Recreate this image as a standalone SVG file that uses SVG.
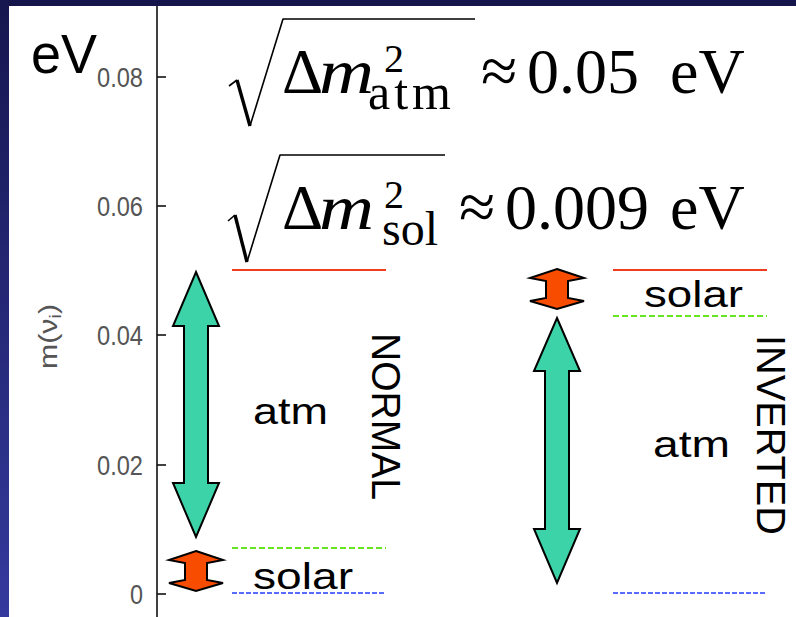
<svg xmlns="http://www.w3.org/2000/svg" width="796" height="617" viewBox="0 0 796 617">
<defs>
<linearGradient id="sideGrad" x1="0" y1="0" x2="0" y2="1">
<stop offset="0" stop-color="#16164f"/>
<stop offset="1" stop-color="#343a9e"/>
</linearGradient>
<style>
.tick{font-family:"Liberation Sans",Arial,sans-serif;font-size:28px;fill:#555;text-anchor:end}
.lbl{font-family:"Liberation Sans",Arial,sans-serif;fill:#000}
.math{font-family:"Liberation Serif","DejaVu Serif",serif;fill:#000}
.mi{font-style:italic}
.green{fill:#3dd3a8;stroke:#000;stroke-width:2;stroke-linejoin:miter}
.orange{fill:#f84c00;stroke:#000;stroke-width:2;stroke-linejoin:miter}
.red{stroke:#f03c1e;stroke-width:2;fill:none}
.gdash{stroke:#66e622;stroke-width:2;stroke-dasharray:6 3;fill:none}
.bdash{stroke:#5a6bff;stroke-width:2;stroke-dasharray:5 2;fill:none}
.rad{fill:none;stroke:#000;stroke-width:1.6;stroke-linejoin:round}
</style>
</defs>
<rect x="0" y="0" width="796" height="617" fill="#fff"/>
<rect x="0" y="0" width="796" height="6" fill="#15154b"/>
<rect x="0" y="0" width="9" height="617" fill="url(#sideGrad)"/>

<g id="axis">
<line x1="157" y1="6" x2="157" y2="617" stroke="#111" stroke-width="1.6"/>
<g stroke="#111" stroke-width="1.6">
<line x1="157" y1="77" x2="166" y2="77"/>
<line x1="157" y1="206" x2="166" y2="206"/>
<line x1="157" y1="335" x2="166" y2="335"/>
<line x1="157" y1="465" x2="166" y2="465"/>
<line x1="157" y1="594" x2="166" y2="594"/>
</g>
<text class="tick" x="143" y="87" textLength="46" lengthAdjust="spacingAndGlyphs">0.08</text>
<text class="tick" x="143" y="216" textLength="46" lengthAdjust="spacingAndGlyphs">0.06</text>
<text class="tick" x="143" y="345" textLength="46" lengthAdjust="spacingAndGlyphs">0.04</text>
<text class="tick" x="143" y="475" textLength="46" lengthAdjust="spacingAndGlyphs">0.02</text>
<text class="tick" x="143" y="604" textLength="13" lengthAdjust="spacingAndGlyphs">0</text>
<text class="lbl" transform="translate(57,369) rotate(-90)" font-size="25" style="fill:#555" textLength="65" lengthAdjust="spacingAndGlyphs">m(ν<tspan font-size="17" dy="4">i</tspan><tspan dy="-4">)</tspan></text>
</g>

<g id="unit-eV">
<text class="lbl" x="31" y="73" font-size="56" textLength="66" lengthAdjust="spacingAndGlyphs">eV</text>
</g>

<g id="formula-atm">
<path class="rad" d="M229,86 L237,80"/>
<path d="M237,80 L250,126" stroke="#000" stroke-width="3.4" fill="none"/>
<path class="rad" d="M250,126 L283,19 L475,19"/>
<text class="math"><tspan x="282" y="93" font-size="64">Δ</tspan><tspan class="mi" x="319" y="93" font-size="64" textLength="55" lengthAdjust="spacingAndGlyphs">m</tspan><tspan x="384" y="72" font-size="40">2</tspan><tspan x="368" y="109" font-size="50" letter-spacing="4">atm</tspan><tspan x="481" y="93" font-size="66">≈</tspan><tspan x="527" y="93" font-size="64">0.05</tspan><tspan x="670" y="93" font-size="64">eV</tspan></text>
</g>

<g id="formula-sol">
<path class="rad" d="M228,221 L235,215"/>
<path d="M235,215 L247,262" stroke="#000" stroke-width="3.4" fill="none"/>
<path class="rad" d="M247,262 L280,155 L445,155"/>
<text class="math"><tspan x="282" y="229" font-size="64">Δ</tspan><tspan class="mi" x="319" y="229" font-size="64" textLength="55" lengthAdjust="spacingAndGlyphs">m</tspan><tspan x="384" y="208" font-size="40">2</tspan><tspan x="382" y="245" font-size="48">sol</tspan><tspan x="459" y="229" font-size="66">≈</tspan><tspan x="505" y="229" font-size="64">0.009</tspan><tspan x="670" y="229" font-size="64">eV</tspan></text>
</g>

<g id="normal-levels">
<line class="red" x1="232" y1="270" x2="386" y2="270"/>
<line class="gdash" x1="232" y1="548" x2="386" y2="548"/>
<line class="bdash" x1="232" y1="593" x2="386" y2="593"/>
</g>

<g id="inverted-levels">
<line class="red" x1="613" y1="270" x2="767" y2="270"/>
<line class="gdash" x1="613" y1="316" x2="767" y2="316"/>
<line class="bdash" x1="613" y1="593" x2="767" y2="593"/>
</g>

<g id="connectors">
<polygon id="normal-atm-arrow" class="green" points="196,272 219,326 208,326 208,483 219,483 196,537 173,483 184,483 184,326 173,326"/>
<polygon id="normal-solar-arrow" class="orange" points="196,551 223,560 207,563 207,580 223,583 196,591 169,583 185,580 185,563 169,560"/>
<polygon id="inverted-atm-arrow" class="green" points="557,318 580,371 569,371 569,529 580,529 557,583 534,529 545,529 545,371 534,371"/>
<polygon id="inverted-solar-arrow" class="orange" points="557,269 584,278 568,281 568,298 584,301 557,309 530,301 546,298 546,281 530,278"/>
</g>

<g id="label-normal-atm"><text class="lbl" x="253" y="424" font-size="36" textLength="75" lengthAdjust="spacingAndGlyphs">atm</text></g>
<g id="label-normal-solar"><text class="lbl" x="253" y="589" font-size="36" textLength="100" lengthAdjust="spacingAndGlyphs">solar</text></g>
<g id="label-inverted-atm"><text class="lbl" x="653" y="457" font-size="36" textLength="77" lengthAdjust="spacingAndGlyphs">atm</text></g>
<g id="label-inverted-solar"><text class="lbl" x="644" y="307" font-size="36" textLength="99" lengthAdjust="spacingAndGlyphs">solar</text></g>
<g id="label-normal"><text class="lbl" transform="translate(372,333) rotate(90)" font-size="40" textLength="167" lengthAdjust="spacingAndGlyphs">NORMAL</text></g>
<g id="label-inverted"><text class="lbl" transform="translate(757,335) rotate(90)" font-size="40" textLength="200" lengthAdjust="spacingAndGlyphs">INVERTED</text></g>
</svg>
